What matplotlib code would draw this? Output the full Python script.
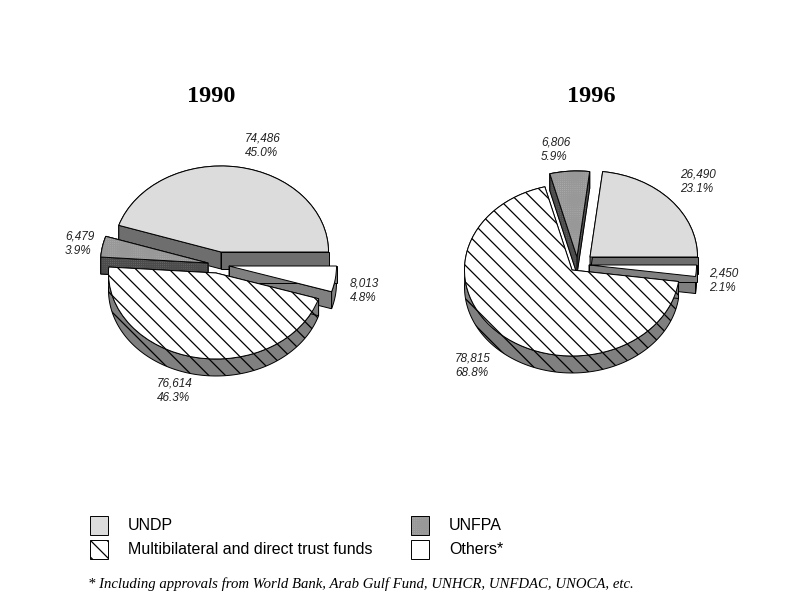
import numpy as np
import matplotlib
matplotlib.use('Agg')
import matplotlib.pyplot as plt
from matplotlib.patches import Wedge, Polygon, Rectangle
from matplotlib.transforms import Affine2D

# order: UNDP, UNFPA, Multibilateral, Others (counter clockwise from 3 o'clock)
names = ['UNDP', 'UNFPA', 'Multibilateral and direct trust funds', 'Others*']
values_1990 = [74486, 6479, 76614, 8013]
values_1996 = [26490, 6806, 78815, 2450]
footnote = '* Including approvals from World Bank, Arab Gulf Fund, UNHCR, UNFDAC, UNOCA, etc.'

# apex of every exploded slice, in pixels
apex_1990 = [(221, 252), (208, 263), (216, 273), (229, 266)]
apex_1996 = [(590, 257), (577, 257), (572, 270), (589, 265)]
labels_1990 = [(245, 146), (65, 244), (157, 391), (350, 291)]
labels_1996 = [(680, 182), (541, 150), (455, 366), (709, 281)]

faces = ['#dcdcdc', '#b4b4b4', 'white', 'white']
walls = ['#6e6e6e', '#707070', '#808080', '#808080']
hatches = [None, '++++++++', '\\\\', None]
draw_order = [0, 1, 3, 2]

A, B, DEPTH = 107.5, 86, 17

plt.rcParams['hatch.linewidth'] = 0.9
plt.rcParams['font.family'] = ['Liberation Sans', 'DejaVu Sans']

fig = plt.figure(figsize=(8, 6), dpi=100)
ax = fig.add_axes([0, 0, 1, 1])


def ell(cx, cy, deg):
    t = np.radians(deg)
    return cx + A * np.cos(t), cy - B * np.sin(t)


def draw_slice(cx, cy, t1, t2, face, wall, hatch):
    speckled = hatch == '++++++++'
    # wall: two cut faces and the outer rim
    x1, y1 = ell(cx, cy, t1)
    x2, y2 = ell(cx, cy, t2)
    quads = [[(cx, cy), (x1, y1), (x1, y1 + DEPTH), (cx, cy + DEPTH)],
             [(cx, cy), (x2, y2), (x2, y2 + DEPTH), (cx, cy + DEPTH)]]
    th = np.linspace(t1, t2, 120)
    xs, ys = ell(cx, cy, th)
    rim = list(zip(xs, ys)) + list(zip(xs[::-1], ys[::-1] + DEPTH))
    for pts in [rim] + quads:
        ax.add_patch(Polygon(pts, closed=True, facecolor=wall,
                             edgecolor='#4c4c4c' if speckled else 'black',
                             hatch=hatch, linewidth=0.7))
        if speckled:
            ax.add_patch(Polygon(pts, closed=True, fill=False, edgecolor='black', linewidth=0.7))
    # top surface
    tr = Affine2D().scale(1, -B / A).translate(cx, cy) + ax.transData
    if speckled:
        ax.add_patch(Wedge((0, 0), A, t1, t2, facecolor=face, edgecolor='#989898',
                           hatch=hatch, linewidth=0, transform=tr))
        ax.add_patch(Wedge((0, 0), A, t1, t2, fill=False, edgecolor='black',
                           linewidth=0.7, transform=tr))
    else:
        ax.add_patch(Wedge((0, 0), A, t1, t2, facecolor=face, edgecolor='black',
                           hatch=hatch, linewidth=0.7, transform=tr))


def draw_pie(values, apex, label_pos, title, title_x):
    total = sum(values)
    edges = np.concatenate([[0], np.cumsum(values)]) / total * 360
    for i in draw_order:
        draw_slice(apex[i][0], apex[i][1], edges[i], edges[i + 1], faces[i], walls[i], hatches[i])
    for v, (x, y) in zip(values, label_pos):
        ax.text(x, y, f'{v:,}\n{v / total * 100:.1f}%', style='italic', fontsize=8.5,
                ha='left', va='center', linespacing=1.3, color='#222222')
    ax.text(title_x, 96, title, family='Liberation Serif', weight='bold', fontsize=17.5,
            ha='center', va='center')


draw_pie(values_1990, apex_1990, labels_1990, '1990', 211)
draw_pie(values_1996, apex_1996, labels_1996, '1996', 591)

# legend
legend_xy = [(90, 516), (411, 516), (90, 540), (411, 540)]
legend_text_x = [128, 449, 128, 449]
for i in range(4):
    x, y = legend_xy[i]
    ax.add_patch(Rectangle((x, y), 18, 19, facecolor=faces[i],
                           edgecolor='#989898' if i == 1 else 'black',
                           hatch=hatches[i], linewidth=0.7))
    if i == 1:
        ax.add_patch(Rectangle((x, y), 18, 19, fill=False, edgecolor='black', linewidth=0.7))
    ax.text(legend_text_x[i], y + 10, names[i], fontsize=11.5, ha='left', va='center')

ax.text(88, 584, footnote, family='Liberation Serif', style='italic', fontsize=10.6,
        ha='left', va='center')

ax.set_xlim(0, 800)
ax.set_ylim(600, 0)
ax.axis('off')
fig.savefig('out.png', dpi=100, facecolor='white')
